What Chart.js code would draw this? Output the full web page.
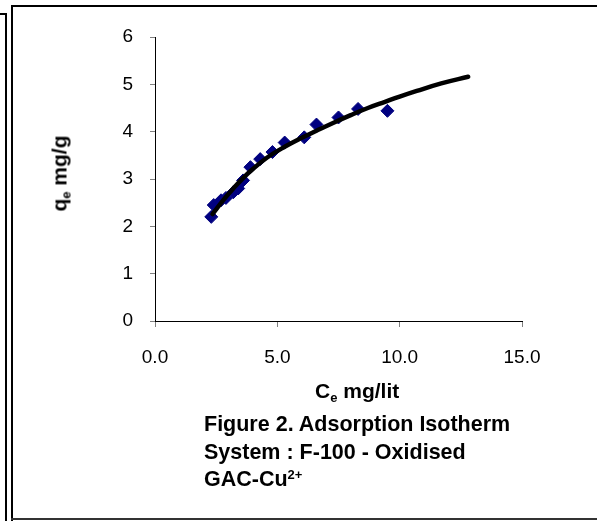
<!DOCTYPE html>
<html>
<head>
<meta charset="utf-8">
<script src="https://cdn.jsdelivr.net/npm/chart.js@4"></script>
<style>
  html, body { margin: 0; padding: 0; background: #fff; }
  body { width: 597px; height: 521px; position: relative; overflow: hidden;
         font-family: Arial, "Liberation Sans", sans-serif; color: #000; }
  .ln { position: absolute; background: #000; }
  #wrap { position: absolute; left: 0; top: 0; width: 597px; height: 521px; }
  .ttl { position: absolute; font-weight: bold; font-size: 21px; white-space: nowrap; }
  .ttl sub { font-size: 13px; vertical-align: -4px; }
  .cap { position: absolute; left: 204px; font-weight: bold; font-size: 21.5px; line-height: 27.5px; white-space: nowrap; }
  .cap sup { font-size: 13px; vertical-align: 7px; line-height: 0; }
</style>
</head>
<body>
<!-- frame -->
<div class="ln" style="left:0;top:13px;width:7px;height:2px"></div>
<div class="ln" style="left:5px;top:13px;width:2px;height:508px"></div>
<div class="ln" style="left:11px;top:5px;width:586px;height:2px"></div>
<div class="ln" style="left:11px;top:5px;width:2px;height:516px"></div>
<div class="ln" style="left:11px;top:518px;width:586px;height:2px;background:#333"></div>

<div id="wrap"><canvas id="isoChart" width="597" height="521"></canvas></div>

<div class="ttl" style="left:3px;top:158px;width:120px;text-align:center;line-height:24px;transform:rotate(-90deg)">q<sub>e</sub> mg/g</div>
<div class="ttl" style="left:315px;top:379px;line-height:24px">C<sub>e</sub> mg/lit</div>
<div class="cap" style="top:411px">Figure 2. Adsorption Isotherm<br>System : F-100 - Oxidised<br>GAC-Cu<sup>2+</sup></div>

<script>
// measured points (Ce, qe)
const ceData = [2.3, 2.4, 2.7, 2.9, 3.2, 3.4, 3.6, 3.9, 4.3, 4.8, 5.3, 6.1, 6.6, 7.5, 8.3, 9.5];
const qeData = [2.2, 2.45, 2.55, 2.6, 2.72, 2.8, 2.97, 3.25, 3.42, 3.57, 3.77, 3.88, 4.15, 4.3, 4.48, 4.44];

// fitted isotherm
const fitCe = [2.35, 2.8, 3.2, 3.6, 4.0, 4.6, 5.3, 6.0, 6.6, 7.3, 8.0, 8.7, 9.4, 10.0, 10.7, 11.7, 12.8];
const fitQe = [2.26, 2.56, 2.8, 3.02, 3.21, 3.46, 3.68, 3.87, 4.02, 4.19, 4.35, 4.5, 4.63, 4.74, 4.86, 5.02, 5.16];

const xTicks = [0, 5, 10, 15];
const yTicks = [0, 1, 2, 3, 4, 5, 6];

const pts = ceData.map((c, i) => ({ x: c, y: qeData[i] }));
const fit = fitCe.map((c, i) => ({ x: c, y: fitQe[i] }));

const tickFont = { family: "Arial, 'Liberation Sans'", size: 19 };

new Chart(document.getElementById("isoChart"), {
    type: "scatter",
    data: {
        datasets: [
            {
                label: "fit",
                data: fit,
                showLine: true,
                borderColor: "#000",
                borderWidth: 4.5,
                tension: 0.4,
                pointRadius: 0,
                borderCapStyle: "round"
            },
            {
                label: "qe",
                data: pts,
                pointStyle: "rectRot",
                pointRadius: 6.5,
                backgroundColor: "#000080",
                borderColor: "#000080",
                borderWidth: 1
            }
        ]
    },
    options: {
        responsive: false,
        animation: false,
        layout: { padding: { left: 0, top: 37, right: 75, bottom: 0 } },
        plugins: { legend: { display: false }, tooltip: { enabled: false } },
        scales: {
            x: {
                type: "linear",
                min: 0,
                max: 15,
                afterBuildTicks: s => { s.ticks = xTicks.map(v => ({ value: v })); },
                afterFit: s => { s.height = 200; },
                ticks: {
                    color: "#000",
                    font: tickFont,
                    padding: 19,
                    maxRotation: 0,
                    callback: v => Number(v).toFixed(1)
                },
                grid: { drawOnChartArea: false, tickLength: 6, tickColor: "#808080" },
                border: { color: "#000", width: 1 }
            },
            y: {
                type: "linear",
                min: 0,
                max: 6,
                afterBuildTicks: s => { s.ticks = yTicks.map(v => ({ value: v })); },
                afterFit: s => { s.width = 155; },
                ticks: {
                    color: "#000",
                    font: tickFont,
                    padding: 17
                },
                grid: { drawOnChartArea: false, tickLength: 5, tickColor: "#808080" },
                border: { color: "#000", width: 1 }
            }
        }
    }
});
</script>
</body>
</html>
